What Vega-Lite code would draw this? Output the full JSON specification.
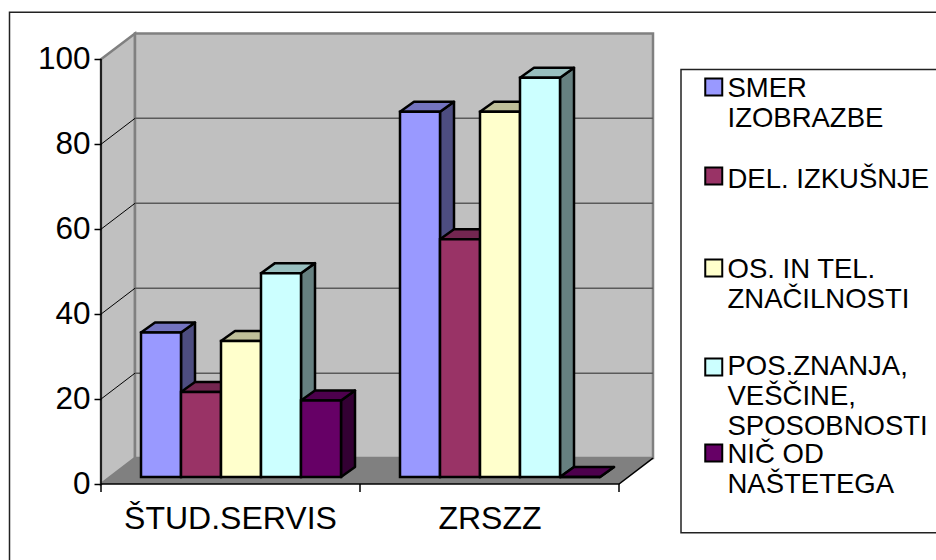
{
  "$schema": "https://vega.github.io/schema/vega-lite/v6.json",
  "width": 552,
  "height": 451,
  "autosize": {"type": "none"},
  "padding": {"left": 101, "top": 33, "right": 283, "bottom": 76},
  "background": "white",
  "view": {"stroke": null},
  "config": {"font": "Liberation Sans"},
  "resolve": {"scale": {"fill": "independent"}},
  "datasets": {
    "bars": [
      {"site": "ŠTUD.SERVIS", "siteIndex": 0, "answer": "SMER IZOBRAZBE", "answerIndex": 0, "value": 34},
      {"site": "ŠTUD.SERVIS", "siteIndex": 0, "answer": "DEL. IZKUŠNJE", "answerIndex": 1, "value": 20},
      {"site": "ŠTUD.SERVIS", "siteIndex": 0, "answer": "OS. IN TEL. ZNAČILNOSTI", "answerIndex": 2, "value": 32},
      {"site": "ŠTUD.SERVIS", "siteIndex": 0, "answer": "POS.ZNANJA, VEŠČINE, SPOSOBNOSTI", "answerIndex": 3, "value": 48},
      {"site": "ŠTUD.SERVIS", "siteIndex": 0, "answer": "NIČ OD NAŠTETEGA", "answerIndex": 4, "value": 18},
      {"site": "ZRSZZ", "siteIndex": 1, "answer": "SMER IZOBRAZBE", "answerIndex": 0, "value": 86},
      {"site": "ZRSZZ", "siteIndex": 1, "answer": "DEL. IZKUŠNJE", "answerIndex": 1, "value": 56},
      {"site": "ZRSZZ", "siteIndex": 1, "answer": "OS. IN TEL. ZNAČILNOSTI", "answerIndex": 2, "value": 86},
      {"site": "ZRSZZ", "siteIndex": 1, "answer": "POS.ZNANJA, VEŠČINE, SPOSOBNOSTI", "answerIndex": 3, "value": 94},
      {"site": "ZRSZZ", "siteIndex": 1, "answer": "NIČ OD NAŠTETEGA", "answerIndex": 4, "value": 0}
    ],
    "sites": [
      {"site": "ŠTUD.SERVIS", "centre": 129.5},
      {"site": "ZRSZZ", "centre": 389}
    ],
    "gridLevels": [{"level": 20}, {"level": 40}, {"level": 60}, {"level": 80}],
    "box": [{"name": "chart"}, {"name": "legend"}],
    "depthEnds": [{"corner": "front"}, {"corner": "back"}]
  },
  "layer": [
    {
      "description": "Left wall",
      "data": {"name": "depthEnds"},
      "mark": {"type": "area", "fill": "#C0C0C0", "stroke": "#808080", "strokeWidth": 2.5, "clip": false},
      "transform": [
        {"calculate": "datum.corner === 'front' ? 0 : 34", "as": "wx"},
        {"calculate": "datum.corner === 'front' ? 0 : 6.1", "as": "wLow"},
        {"calculate": "datum.wLow + 100", "as": "wHigh"}
      ],
      "encoding": {
        "x": {"field": "wx", "type": "quantitative", "scale": {"domain": [0, 552], "nice": false, "zero": false}, "axis": null},
        "y": {"field": "wHigh", "type": "quantitative", "scale": {"domain": [0, 106.2], "nice": false, "zero": false}, "axis": {"values": [0, 20, 40, 60, 80, 100], "zindex": 1, "grid": false, "domain": false, "tickColor": "#000000", "tickSize": 7, "tickWidth": 1.5, "labelFontSize": 31.5, "labelColor": "#000000", "labelPadding": 4, "title": null}},
        "y2": {"field": "wLow"}
      }
    },
    {
      "description": "Back wall",
      "data": {"values": [{"wall": "back"}]},
      "mark": {"type": "rect", "fill": "#C0C0C0", "stroke": "#808080", "strokeWidth": 2.5, "clip": false},
      "encoding": {
        "x": {"datum": 34, "type": "quantitative"},
        "x2": {"datum": 552},
        "y": {"datum": 106.1, "type": "quantitative"},
        "y2": {"datum": 6.1}
      }
    },
    {
      "description": "Floor",
      "data": {"name": "depthEnds"},
      "mark": {"type": "area", "orient": "horizontal", "fill": "#808080", "clip": false},
      "transform": [
        {"calculate": "datum.corner === 'front' ? 0 : 6.1", "as": "fy"},
        {"calculate": "datum.corner === 'front' ? 0 : 34", "as": "fx"},
        {"calculate": "datum.fx + 518", "as": "fx2"}
      ],
      "encoding": {
        "y": {"field": "fy", "type": "quantitative"},
        "x": {"field": "fx", "type": "quantitative"},
        "x2": {"field": "fx2"}
      }
    },
    {
      "description": "Grid lines across the back wall",
      "data": {"name": "gridLevels"},
      "transform": [
        {"calculate": "datum.level + 6.1", "as": "gy"}
      ],
      "mark": {"type": "rule", "stroke": "#5A5A5A", "strokeWidth": 1.5},
      "encoding": {
        "x": {"datum": 34, "type": "quantitative"},
        "x2": {"datum": 552},
        "y": {"field": "gy", "type": "quantitative"}
      }
    },
    {
      "description": "Grid lines slanting up the left wall",
      "data": {"values": [
        {"level": 20, "end": 0}, {"level": 20, "end": 1},
        {"level": 40, "end": 0}, {"level": 40, "end": 1},
        {"level": 60, "end": 0}, {"level": 60, "end": 1},
        {"level": 80, "end": 0}, {"level": 80, "end": 1}
      ]},
      "transform": [
        {"calculate": "datum.end * 34", "as": "gx"},
        {"calculate": "datum.level + datum.end * 6.1", "as": "gy"}
      ],
      "mark": {"type": "line", "stroke": "#000000", "strokeWidth": 1},
      "encoding": {
        "x": {"field": "gx", "type": "quantitative"},
        "y": {"field": "gy", "type": "quantitative"},
        "detail": {"field": "level"}
      }
    },
    {
      "description": "Front axis line and the slanted floor edge",
      "data": {"values": [{"edge": "axis", "ex": 0, "ey": 0}, {"edge": "axis", "ex": 0, "ey": 100}, {"edge": "base", "ex": 0, "ey": 0}, {"edge": "base", "ex": 518, "ey": 0}, {"edge": "base", "ex": 552, "ey": 6.1}]},
      "mark": {"type": "line", "stroke": "#000000", "strokeWidth": 1.5, "clip": false},
      "encoding": {
        "x": {"field": "ex", "type": "quantitative"},
        "y": {"field": "ey", "type": "quantitative"},
        "detail": {"field": "edge"}
      }
    },
    {
      "description": "Category separator ticks under the floor",
      "data": {"values": [{"tick": 0}, {"tick": 259}, {"tick": 518}]},
      "mark": {"type": "rule", "stroke": "#000000", "strokeWidth": 1.5, "clip": false},
      "encoding": {
        "x": {"field": "tick", "type": "quantitative"},
        "y": {"datum": 0, "type": "quantitative"},
        "y2": {"datum": -1.9}
      }
    },
    {
      "description": "Category names",
      "data": {"name": "sites"},
      "mark": {"type": "text", "fontSize": 32, "color": "#000000", "baseline": "middle", "dy": 35},
      "encoding": {
        "x": {"field": "centre", "type": "quantitative"},
        "y": {"datum": 0, "type": "quantitative"},
        "text": {"field": "site"}
      }
    },
    {
      "description": "Right-hand side of each bar",
      "data": {"name": "bars"},
      "transform": [
        {"calculate": "80 + 259 * datum.siteIndex + 40 * datum.answerIndex", "as": "sideStart"},
        {"calculate": "datum.sideStart + 14", "as": "sideEnd"},
        {"fold": ["sideStart", "sideEnd"], "as": ["k", "sx"]},
        {"calculate": "1.65 + (datum.k === 'sideEnd' ? 2.36 : 0)", "as": "sLow"},
        {"calculate": "datum.sLow + datum.value", "as": "sHigh"},
        {"calculate": "datum.site + datum.answer", "as": "barId"}
      ],
      "mark": {"type": "area", "stroke": "#000000", "strokeWidth": 2.5, "strokeJoin": "round", "clip": false},
      "encoding": {
        "x": {"field": "sx", "type": "quantitative"},
        "y": {"field": "sHigh", "type": "quantitative"},
        "y2": {"field": "sLow"},
        "detail": {"field": "barId"},
        "fill": {"field": "answer", "type": "nominal", "scale": {"domain": ["SMER IZOBRAZBE", "DEL. IZKUŠNJE", "OS. IN TEL. ZNAČILNOSTI", "POS.ZNANJA, VEŠČINE, SPOSOBNOSTI", "NIČ OD NAŠTETEGA"], "range": ["#4D4D80", "#4D1A33", "#808066", "#668080", "#330033"]}, "legend": null}
      }
    },
    {
      "description": "Top of each bar",
      "data": {"name": "bars"},
      "transform": [
        {"calculate": "1.65 + datum.value", "as": "topFront"},
        {"calculate": "datum.topFront + 2.36", "as": "topBack"},
        {"fold": ["topFront", "topBack"], "as": ["k", "ty"]},
        {"calculate": "40 + 259 * datum.siteIndex + 40 * datum.answerIndex + (datum.k === 'topBack' ? 14 : 0)", "as": "tLeft"},
        {"calculate": "datum.tLeft + 40", "as": "tRight"},
        {"calculate": "datum.site + datum.answer", "as": "barId"}
      ],
      "mark": {"type": "area", "orient": "horizontal", "stroke": "#000000", "strokeWidth": 2.5, "strokeJoin": "round", "clip": false},
      "encoding": {
        "y": {"field": "ty", "type": "quantitative"},
        "x": {"field": "tLeft", "type": "quantitative"},
        "x2": {"field": "tRight"},
        "detail": {"field": "barId"},
        "fill": {"field": "answer", "type": "nominal", "scale": {"domain": ["SMER IZOBRAZBE", "DEL. IZKUŠNJE", "OS. IN TEL. ZNAČILNOSTI", "POS.ZNANJA, VEŠČINE, SPOSOBNOSTI", "NIČ OD NAŠTETEGA"], "range": ["#7373BF", "#732650", "#BFBF99", "#99BFBF", "#4D004D"]}, "legend": null}
      }
    },
    {
      "description": "Front of each bar, which also carries the legend",
      "data": {"name": "bars"},
      "transform": [
        {"calculate": "40 + 259 * datum.siteIndex + 40 * datum.answerIndex", "as": "fLeft"},
        {"calculate": "datum.fLeft + 40", "as": "fRight"},
        {"calculate": "1.65", "as": "fBase"},
        {"calculate": "datum.fBase + datum.value", "as": "fTop"}
      ],
      "mark": {"type": "rect", "stroke": "#000000", "strokeWidth": 2.5, "clip": false},
      "encoding": {
        "x": {"field": "fLeft", "type": "quantitative"},
        "x2": {"field": "fRight"},
        "y": {"field": "fTop", "type": "quantitative"},
        "y2": {"field": "fBase"},
        "fill": {
          "field": "answer",
          "type": "nominal",
          "scale": {"domain": ["SMER IZOBRAZBE", "DEL. IZKUŠNJE", "OS. IN TEL. ZNAČILNOSTI", "POS.ZNANJA, VEŠČINE, SPOSOBNOSTI", "NIČ OD NAŠTETEGA"], "range": ["#9999FF", "#993366", "#FFFFCC", "#CCFFFF", "#660066"]},
          "legend": {
            "orient": "none",
            "legendX": 599,
            "legendY": 41,
            "zindex": 1,
            "title": null,
            "symbolType": "square",
            "symbolSize": 289,
            "symbolStrokeColor": "#000000",
            "symbolStrokeWidth": 2,
            "symbolOpacity": 1,
            "labelFontSize": 27.5,
            "labelColor": "#000000",
            "labelLimit": 300,
            "labelOffset": 0,
            "labelBaseline": "top",
            "rowPadding": -12,
            "padding": 0,
            "labelExpr": "datum.value === 'SMER IZOBRAZBE' ? ['SMER', 'IZOBRAZBE', ''] : datum.value === 'DEL. IZKUŠNJE' ? ['DEL. IZKUŠNJE', '', ''] : datum.value === 'OS. IN TEL. ZNAČILNOSTI' ? ['OS. IN TEL.', 'ZNAČILNOSTI', ''] : datum.value === 'NIČ OD NAŠTETEGA' ? ['NIČ OD', 'NAŠTETEGA'] : ['POS.ZNANJA,', 'VEŠČINE,', 'SPOSOBNOSTI']",
            "encode": {
              "labels": {"update": {"lineHeight": {"value": 30}, "dy": {"signal": "datum.value === 'POS.ZNANJA, VEŠČINE, SPOSOBNOSTI' ? -5 : datum.value === 'NIČ OD NAŠTETEGA' ? -14 : datum.value === 'SMER IZOBRAZBE' ? -13 : datum.value === 'DEL. IZKUŠNJE' ? -11 : -12"}}},
              "symbols": {"update": {"y": {"signal": "datum.value === 'POS.ZNANJA, VEŠČINE, SPOSOBNOSTI' ? 23 : datum.value === 'NIČ OD NAŠTETEGA' ? 12 : datum.value === 'OS. IN TEL. ZNAČILNOSTI' ? 14 : 13"}}}
            }
          }
        }
      }
    },
    {
      "description": "Outer chart frame and legend box, both running off the right and bottom of the sheet",
      "data": {"name": "box"},
      "mark": {"type": "rect", "filled": false, "stroke": "#222222", "strokeWidth": 1.5, "clip": false},
      "transform": [
        {"calculate": "datum.name === 'chart' ? -91.5 : 580", "as": "left"},
        {"calculate": "850", "as": "right"},
        {"calculate": "datum.name === 'chart' ? 111.1 : 97.6", "as": "top"},
        {"calculate": "datum.name === 'chart' ? -30 : -11.5", "as": "bottom"}
      ],
      "encoding": {
        "x": {"field": "left", "type": "quantitative"},
        "x2": {"field": "right"},
        "y": {"field": "top", "type": "quantitative"},
        "y2": {"field": "bottom"}
      }
    }
  ]
}
